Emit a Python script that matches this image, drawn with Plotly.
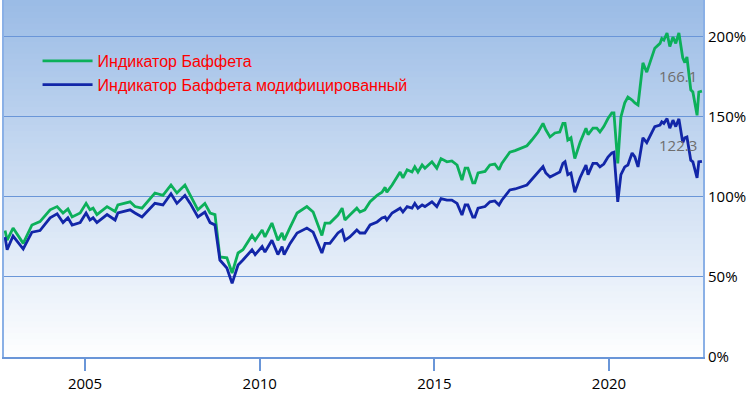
import plotly.graph_objects as go

# decimal year, Buffett indicator (%), modified Buffett indicator (%)
years = [2002.71, 2002.77, 2002.94, 2003.23, 2003.48, 2003.71, 2004.00, 2004.20, 2004.37, 2004.51,
         2004.63, 2004.86, 2005.03, 2005.14, 2005.23, 2005.34, 2005.63, 2005.86, 2005.94, 2006.29,
         2006.43, 2006.63, 2007.00, 2007.23, 2007.46, 2007.63, 2007.86, 2008.01, 2008.23, 2008.43,
         2008.58, 2008.72, 2008.86, 2009.06, 2009.21, 2009.38, 2009.52, 2009.78, 2009.87, 2010.07,
         2010.15, 2010.35, 2010.52, 2010.64, 2010.70, 2010.87, 2011.07, 2011.35, 2011.53, 2011.78,
         2011.87, 2012.01, 2012.24, 2012.36, 2012.44, 2012.58, 2012.78, 2012.87, 2013.01, 2013.16,
         2013.36, 2013.50, 2013.59, 2013.64, 2013.79, 2014.02, 2014.10, 2014.22, 2014.36, 2014.44,
         2014.53, 2014.65, 2014.73, 2014.93, 2015.07, 2015.19, 2015.36, 2015.50, 2015.65, 2015.79,
         2015.88, 2015.96, 2016.10, 2016.16, 2016.25, 2016.45, 2016.59, 2016.73, 2016.85, 2016.93,
         2017.16, 2017.31, 2017.65, 2017.79, 2017.97, 2018.11, 2018.19, 2018.31, 2018.45, 2018.59,
         2018.68, 2018.74, 2018.82, 2018.91, 2019.02, 2019.17, 2019.34, 2019.40, 2019.54, 2019.65,
         2019.74, 2019.85, 2019.97, 2020.08, 2020.14, 2020.25, 2020.34, 2020.45, 2020.54, 2020.66,
         2020.74, 2020.83, 2020.97, 2021.08, 2021.23, 2021.31, 2021.46, 2021.51, 2021.57, 2021.66,
         2021.74, 2021.83, 2021.91, 2022.00, 2022.11, 2022.17, 2022.23, 2022.34, 2022.40, 2022.52,
         2022.57, 2022.66]

buffett = [79, 73, 80.6, 71, 82.5, 84.6, 92, 94, 90, 92.5,
           87.5, 90, 96, 92, 93, 89, 94, 91, 95, 97,
           94, 93, 102.5, 101, 107.5, 102.5, 107.5, 101, 92, 96,
           90, 89, 62.5, 62, 52.5, 65, 67, 76, 73, 79.4,
           75, 83.7, 73, 77.5, 73, 81, 90, 94, 90.6, 76,
           83.7, 83.7, 88.7, 93, 85.6, 88.7, 93, 90.6, 92, 97,
           101, 103, 106, 103, 107.5, 115.6, 112, 117, 115.6, 118.8,
           115.6, 120, 118, 122, 118, 124, 122, 122.5, 120, 110.6,
           118, 118, 108.8, 108.8, 115, 116, 120, 120.6, 117, 121,
           128, 129, 132, 135.6, 140.6, 146, 142, 137.5, 140, 140.6,
           146, 146, 135.6, 137, 124, 134, 143, 139, 143, 143,
           140.6, 144, 149, 152.5, 152.5, 121, 150, 158.8, 162.5, 160.6,
           158.8, 157.5, 183.8, 178, 187.5, 193, 196, 199, 198, 202.5,
           194, 200, 196, 202.5, 187, 184, 187.5, 167, 165.6, 151,
           165.6, 166.1]

modified = [75, 67, 75.6, 67.5, 78, 79, 87, 89.5, 84, 87,
            82.5, 84, 90, 85.6, 87, 84, 89, 85.6, 90, 92,
            90, 87.5, 96, 95, 102, 96, 101, 96, 87.5, 90.6,
            84, 82.5, 60.6, 55.6, 46, 57.5, 60.6, 67, 64, 69,
            65.6, 73, 64, 69, 64, 71, 77.5, 80.6, 78, 65,
            71, 71, 77.5, 79.4, 73, 75, 79.4, 77.5, 77.5, 82.5,
            84.4, 86.9, 87.5, 85.6, 90, 93, 90.6, 94, 93, 96,
            93, 95, 94, 97, 94, 99, 98, 98, 96, 88.7,
            95, 95, 87.5, 87.5, 93, 94, 97, 97.5, 95, 98,
            104.4, 105, 107.5, 111, 115, 119, 115, 112.5, 114, 115.6,
            121, 122, 114, 115, 103, 112, 120, 114, 121, 121,
            118.8, 120.6, 125, 127.5, 128, 97, 114, 118.8, 120, 127.5,
            125, 118.8, 137, 134, 140.6, 144, 145, 147, 146, 149,
            143, 148, 144, 148.8, 134, 137, 137.5, 123, 122, 112,
            122, 122.3]

names = ["Индикатор Баффета", "Индикатор Баффета модифицированный"]
y_ticks = [0, 50, 100, 150, 200]
y_tick_labels = ["0%", "50%", "100%", "150%", "200%"]
x_ticks = [2005, 2010, 2015, 2020]
x_tick_labels = ["2005", "2010", "2015", "2020"]

GREEN = "#0cb05a"
BLUE = "#1226a8"
AXIS = "#6a96d8"

fig = go.Figure()
fig.add_trace(go.Scatter(x=years, y=buffett, mode="lines", name=names[0],
                         line=dict(color=GREEN, width=2.8)))
fig.add_trace(go.Scatter(x=years, y=modified, mode="lines", name=names[1],
                         line=dict(color=BLUE, width=2.8)))

# vertical gradient background (overlapping bands to avoid seams)
shapes = []
n = 60
top = (155, 188, 230)
bot = (255, 255, 255)
for i in range(n):
    t = i / n
    c = tuple(int(round(top[k] + (bot[k] - top[k]) * t)) for k in range(3))
    shapes.append(dict(type="rect", xref="paper", yref="paper", x0=0, x1=1,
                       y0=max(0, 1 - (i + 1.6) / n), y1=1 - i / n, layer="below",
                       line=dict(width=0), fillcolor="rgb(%d,%d,%d)" % c))

annotations = [
    dict(x=years[-1], y=buffett[-1], text=f"{buffett[-1]:.1f}", showarrow=False,
         xanchor="right", yanchor="middle", xshift=-3, yshift=15,
         font=dict(size=15, color="#6e6e6e", family="Open Sans")),
    dict(x=years[-1], y=modified[-1], text=f"{modified[-1]:.1f}", showarrow=False,
         xanchor="right", yanchor="middle", xshift=-3, yshift=16,
         font=dict(size=15, color="#6e6e6e", family="Open Sans")),
]

fig.update_layout(
    template="none",
    width=753, height=393,
    margin=dict(l=4, r=50, t=0, b=36, pad=0, autoexpand=False),
    paper_bgcolor="white", plot_bgcolor="white",
    font=dict(family="Open Sans", size=15, color="black"),
    shapes=shapes, annotations=annotations,
    legend=dict(x=0.048, y=0.877, xanchor="left", yanchor="top",
                bgcolor="rgba(0,0,0,0)", borderwidth=0, itemwidth=50,
                font=dict(family="Liberation Sans, Arial", size=16, color="#ff0000")),
    xaxis=dict(range=[2002.68, 2022.69], tickvals=x_ticks, ticktext=x_tick_labels,
               automargin=False, showgrid=False, zeroline=False, showline=True,
               linecolor=AXIS, linewidth=2, mirror=True, ticks="outside", ticklen=12,
               tickcolor=AXIS, tickwidth=1.5, tickfont=dict(size=15, color="black")),
    yaxis=dict(range=[0, 223.1], tickvals=y_ticks, ticktext=y_tick_labels, side="right",
               automargin=False, showgrid=True, gridcolor=AXIS, gridwidth=1.3,
               zeroline=False, showline=True, linecolor="#8ab0e6", linewidth=2, mirror=True,
               ticks="", tickfont=dict(size=15, color="black")),
    showlegend=True,
)

fig.write_html("out.html", config={"displayModeBar": False},
               post_script="document.body.style.margin='0';document.body.style.overflow='hidden';")
